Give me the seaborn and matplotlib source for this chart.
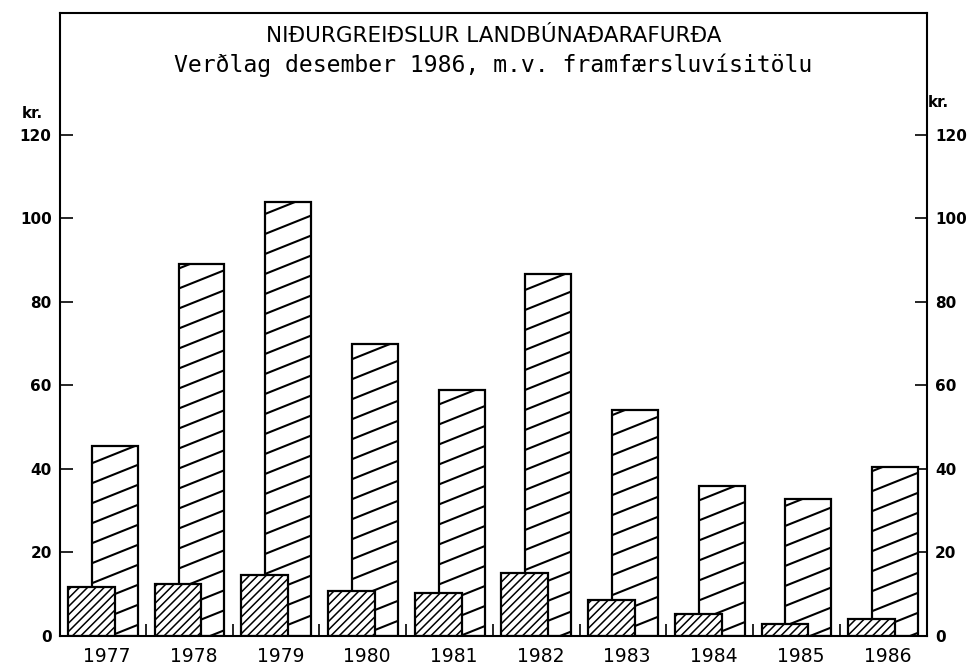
"""
Niðurgreiðslur landbúnaðarafurða 1977-1986 -- two overlapping bar series
"""

import warnings
import numpy as np
import pandas as pd
import matplotlib
matplotlib.use("Agg")
import matplotlib.pyplot as plt
import matplotlib.hatch as mhatch
from matplotlib.path import Path
from matplotlib.ticker import FixedLocator
import seaborn as sns

warnings.filterwarnings("ignore")

# Data
years = [1977, 1978, 1979, 1980, 1981, 1982, 1983, 1984, 1985, 1986]
small_vals = [11.7, 12.5, 14.6, 10.8, 10.3, 15.1, 8.6, 5.3, 2.9, 4.1]
tall_vals = [45.5, 89.1, 104.0, 69.9, 58.9, 86.7, 54.1, 35.9, 32.8, 40.5]
y_ticks = [0, 20, 40, 60, 80, 100, 120]
title_1 = "NIÐURGREIÐSLUR LANDBÚNAÐARAFURÐA"
title_2 = "Verðlag desember 1986, m.v. framfærsluvísitölu"
unit = "kr."


class ShallowHatch(mhatch.HatchPatternBase):
    """Flat rising lines (slope 0.4), selected by 'z' in the hatch string."""

    def __init__(self, hatch, density):
        self.offsets = np.arange(-5, 9) * 0.2
        self.num_vertices = len(self.offsets) * 2 if 'z' in hatch else 0

    def set_vertices_and_codes(self, vertices, codes):
        x0, x1 = -0.3, 1.3
        vertices[0::2, 0] = x0
        vertices[0::2, 1] = self.offsets + 0.4 * x0
        vertices[1::2, 0] = x1
        vertices[1::2, 1] = self.offsets + 0.4 * x1
        codes[0::2] = Path.MOVETO
        codes[1::2] = Path.LINETO


mhatch._hatch_types.append(ShallowHatch)

sns.set_style("white")
plt.rcParams['font.family'] = ['DejaVu Sans']
plt.rcParams['text.color'] = 'black'
plt.rcParams['xtick.color'] = 'black'
plt.rcParams['ytick.color'] = 'black'
plt.rcParams['axes.edgecolor'] = 'black'
plt.rcParams['hatch.color'] = 'black'
plt.rcParams['axes.linewidth'] = 1.5

fig = plt.figure(figsize=(9.72, 6.67), dpi=100)
ax = fig.add_axes([60 / 972, 1 - 636 / 667, 866.5 / 972, 623 / 667])

df_tall = pd.DataFrame({"pos": np.array(years) + 0.09, "value": tall_vals})
df_small = pd.DataFrame({"pos": np.array(years) - 0.18, "value": small_vals})

plt.rcParams['hatch.linewidth'] = 1.5
sns.barplot(data=df_tall, x="pos", y="value", native_scale=True, width=0.53,
            color="white", saturation=1, edgecolor="black", linewidth=1.6,
            hatch="z", errorbar=None, ax=ax)
plt.rcParams['hatch.linewidth'] = 1.1
sns.barplot(data=df_small, x="pos", y="value", native_scale=True, width=0.54,
            color="white", saturation=1, edgecolor="black", linewidth=1.6,
            hatch="////", errorbar=None, ax=ax)

ax.set_xlim(years[0] - 0.542, years[-1] + 0.452)
ax.set_ylim(0, 149.2)
ax.set_xlabel("")
ax.set_ylabel("")

# year labels at group centres, small tick marks between groups
ax.set_xticks(years)
ax.set_xticklabels([str(y) for y in years], fontsize=13.5)
ax.xaxis.set_minor_locator(FixedLocator([y + 0.45 for y in years[:-1]]))
ax.tick_params(axis='x', which='major', length=0, pad=8)
ax.tick_params(axis='x', which='minor', direction='in', length=9, width=1.2,
               bottom=True)

ax.set_yticks(y_ticks)
ax.tick_params(axis='y', direction='in', length=9, width=1.2, left=True,
               right=True, labelleft=True, labelright=True, pad=6)
for lab in ax.get_yticklabels():
    lab.set_fontsize(11)
    lab.set_fontweight('bold')

for side in ['top', 'bottom', 'left', 'right']:
    ax.spines[side].set_visible(True)

ax.text(0.5, (636 - 42) / 623, title_1, transform=ax.transAxes, ha='center',
        va='baseline', fontsize=15.5)
ax.text(0.5, (636 - 72) / 623, title_2, transform=ax.transAxes, ha='center',
        va='baseline', fontsize=16.7, family='DejaVu Sans Mono')

fig.text(43 / 972, 1 - 118 / 667, unit, ha='right', va='baseline',
         fontsize=11, fontweight='bold')
fig.text(928 / 972, 1 - 107 / 667, unit, ha='left', va='baseline',
         fontsize=11, fontweight='bold')

plt.savefig('out.png', dpi=100)
plt.close()
